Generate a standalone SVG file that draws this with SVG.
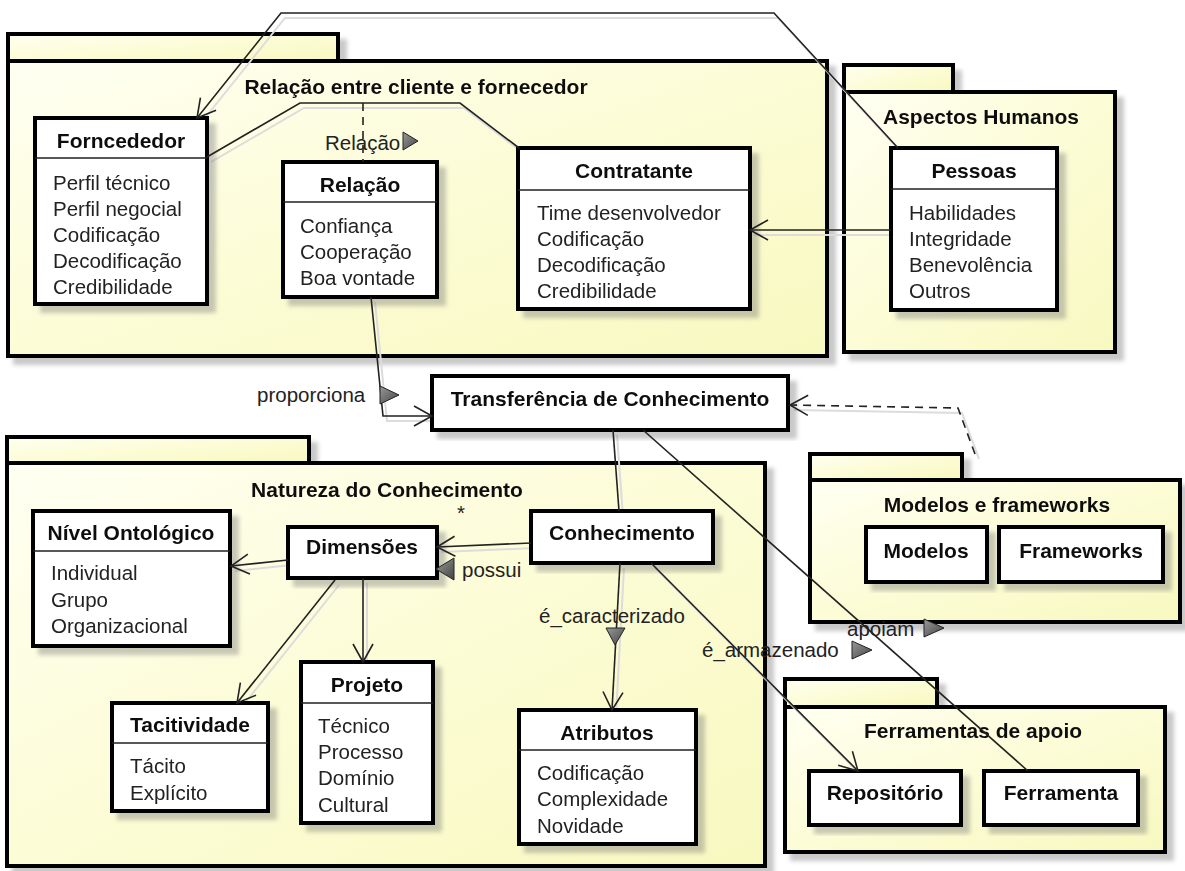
<svg xmlns="http://www.w3.org/2000/svg" width="1185" height="871" viewBox="0 0 1185 871">
<defs>
<linearGradient id="pk" x1="0" y1="0" x2="1" y2="1">
<stop offset="0" stop-color="#fffff2"/>
<stop offset="0.5" stop-color="#fcfcd6"/>
<stop offset="1" stop-color="#f8f8c0"/>
</linearGradient>
<linearGradient id="trg" x1="0" y1="0" x2="1" y2="1">
<stop offset="0" stop-color="#999"/>
<stop offset="1" stop-color="#444"/>
</linearGradient>
<filter id="sh" x="-5%" y="-5%" width="120%" height="125%">
<feDropShadow dx="7" dy="7" stdDeviation="2" flood-color="#777" flood-opacity="0.4"/>
</filter>
<marker id="arr" markerUnits="userSpaceOnUse" markerWidth="24" markerHeight="24" refX="20" refY="12" orient="auto">
<path d="M2,2 L20,12 L2,22" fill="none" stroke="#222" stroke-width="1.6"/>
</marker>
</defs>
<style>
.pkg{fill:url(#pk);stroke:#000;stroke-width:4}
.box{fill:#fff;stroke:#000;stroke-width:4}
.sep{stroke:#222;stroke-width:1.5}
.t{font-family:"Liberation Sans",Arial,sans-serif;font-size:20.5px;fill:#222}
.b{font-family:"Liberation Sans",Arial,sans-serif;font-size:21px;font-weight:bold;fill:#111;text-anchor:middle}
.pt{font-family:"Liberation Sans",Arial,sans-serif;font-size:21px;font-weight:bold;fill:#111;text-anchor:middle}
.c{fill:none;stroke:#222;stroke-width:1.6}
.cs{fill:none;stroke:#dcdcdc;stroke-width:2}
.d{stroke-dasharray:8 6}
.tr{fill:url(#trg);stroke:#222;stroke-width:1}
</style>

<!-- Packages -->
<g id="pkg-relacao" filter="url(#sh)">
<rect class="pkg" x="8" y="34" width="330" height="27"/>
<rect class="pkg" x="8" y="61" width="819" height="295"/>
<text class="pt" x="416" y="94">Relação entre cliente e fornecedor</text>
</g>
<g id="pkg-aspectos" filter="url(#sh)">
<rect class="pkg" x="844" y="65" width="109" height="27"/>
<rect class="pkg" x="844" y="92" width="271" height="260"/>
<text class="pt" x="981" y="124">Aspectos Humanos</text>
</g>
<g id="pkg-natureza" filter="url(#sh)">
<rect class="pkg" x="7" y="437" width="302" height="26"/>
<rect class="pkg" x="7" y="463" width="758" height="403"/>
<text class="pt" x="387" y="497">Natureza do Conhecimento</text>
</g>
<g id="pkg-modelos" filter="url(#sh)">
<rect class="pkg" x="810" y="454" width="152" height="26"/>
<rect class="pkg" x="810" y="480" width="370" height="142"/>
<text class="pt" x="997" y="512">Modelos e frameworks</text>
</g>
<g id="pkg-ferramentas" filter="url(#sh)">
<rect class="pkg" x="785" y="679" width="152" height="28"/>
<rect class="pkg" x="785" y="707" width="380" height="145"/>
<text class="pt" x="973" y="738">Ferramentas de apoio</text>
</g>

<!-- Connector shadows -->
<g id="connector-shadows" transform="translate(4,5)">
<path class="cs" d="M898,148 L774,13 L281,13 L197,118"/>
<path class="cs" d="M207,157 L300,103 L460,103 L519,148"/>
<path class="cs" d="M891,230 L750,230"/>
<path class="cs" d="M371,297 L383,416 L432,416"/>
<path class="cs" d="M613,430 L619,511"/>
<path class="cs" d="M975,454 L958,408 L790,405"/>
<path class="cs" d="M531,543 L437,547"/>
<path class="cs" d="M288,560 L231,566"/>
<path class="cs" d="M335,580 L237,703"/>
<path class="cs" d="M363,578 L363,662"/>
<path class="cs" d="M620,563 L612,710"/>
<path class="cs" d="M651,563 L858,771"/>
</g>

<!-- Classes -->
<g id="forncededor" filter="url(#sh)">
<rect class="box" x="35" y="118" width="172" height="186"/>
<line class="sep" x1="35" y1="158" x2="207" y2="158"/>
<text class="b" x="121" y="148">Forncededor</text>
<text class="t" x="53" y="190">Perfil técnico</text>
<text class="t" x="53" y="216">Perfil negocial</text>
<text class="t" x="53" y="242">Codificação</text>
<text class="t" x="53" y="268">Decodificação</text>
<text class="t" x="53" y="294">Credibilidade</text>
</g>
<g id="relacao" filter="url(#sh)">
<rect class="box" x="283" y="162" width="154" height="135"/>
<line class="sep" x1="283" y1="202" x2="437" y2="202"/>
<text class="b" x="360" y="192">Relação</text>
<text class="t" x="300" y="233">Confiança</text>
<text class="t" x="300" y="259">Cooperação</text>
<text class="t" x="300" y="285">Boa vontade</text>
</g>
<g id="contratante" filter="url(#sh)">
<rect class="box" x="518" y="148" width="232" height="161"/>
<line class="sep" x1="518" y1="190" x2="750" y2="190"/>
<text class="b" x="634" y="178">Contratante</text>
<text class="t" x="537" y="220">Time desenvolvedor</text>
<text class="t" x="537" y="246">Codificação</text>
<text class="t" x="537" y="272">Decodificação</text>
<text class="t" x="537" y="298">Credibilidade</text>
</g>
<g id="pessoas" filter="url(#sh)">
<rect class="box" x="891" y="148" width="166" height="162"/>
<line class="sep" x1="891" y1="189" x2="1057" y2="189"/>
<text class="b" x="974" y="178">Pessoas</text>
<text class="t" x="909" y="220">Habilidades</text>
<text class="t" x="909" y="246">Integridade</text>
<text class="t" x="909" y="272">Benevolência</text>
<text class="t" x="909" y="298">Outros</text>
</g>
<g id="transferencia" filter="url(#sh)">
<rect class="box" x="432" y="376" width="356" height="54"/>
<text class="b" x="610" y="406">Transferência de Conhecimento</text>
</g>
<g id="nivel" filter="url(#sh)">
<rect class="box" x="33" y="511" width="197" height="135"/>
<line class="sep" x1="33" y1="551" x2="230" y2="551"/>
<text class="b" x="131" y="540">Nível Ontológico</text>
<text class="t" x="51" y="580">Individual</text>
<text class="t" x="51" y="607">Grupo</text>
<text class="t" x="51" y="633">Organizacional</text>
</g>
<g id="dimensoes" filter="url(#sh)">
<rect class="box" x="288" y="527" width="149" height="51"/>
<text class="b" x="362" y="554">Dimensões</text>
</g>
<g id="conhecimento" filter="url(#sh)">
<rect class="box" x="531" y="511" width="182" height="52"/>
<text class="b" x="622" y="540">Conhecimento</text>
</g>
<g id="tacitividade" filter="url(#sh)">
<rect class="box" x="112" y="703" width="156" height="108"/>
<line class="sep" x1="112" y1="743" x2="268" y2="743"/>
<text class="b" x="190" y="732">Tacitividade</text>
<text class="t" x="130" y="773">Tácito</text>
<text class="t" x="130" y="800">Explícito</text>
</g>
<g id="projeto" filter="url(#sh)">
<rect class="box" x="301" y="662" width="132" height="161"/>
<line class="sep" x1="301" y1="703" x2="433" y2="703"/>
<text class="b" x="367" y="692">Projeto</text>
<text class="t" x="318" y="733">Técnico</text>
<text class="t" x="318" y="759">Processo</text>
<text class="t" x="318" y="785">Domínio</text>
<text class="t" x="318" y="812">Cultural</text>
</g>
<g id="atributos" filter="url(#sh)">
<rect class="box" x="519" y="710" width="177" height="134"/>
<line class="sep" x1="519" y1="750" x2="696" y2="750"/>
<text class="b" x="607" y="740">Atributos</text>
<text class="t" x="537" y="780">Codificação</text>
<text class="t" x="537" y="806">Complexidade</text>
<text class="t" x="537" y="833">Novidade</text>
</g>
<g id="modelos" filter="url(#sh)">
<rect class="box" x="866" y="527" width="121" height="55"/>
<text class="b" x="926" y="558">Modelos</text>
</g>
<g id="frameworks" filter="url(#sh)">
<rect class="box" x="999" y="527" width="164" height="55"/>
<text class="b" x="1081" y="558">Frameworks</text>
</g>
<g id="repositorio" filter="url(#sh)">
<rect class="box" x="809" y="771" width="152" height="54"/>
<text class="b" x="885" y="800">Repositório</text>
</g>
<g id="ferramenta" filter="url(#sh)">
<rect class="box" x="984" y="771" width="154" height="54"/>
<text class="b" x="1061" y="800">Ferramenta</text>
</g>

<!-- Connectors -->
<g id="connectors">
<path class="c" d="M898,148 L774,13 L281,13 L197,118" marker-end="url(#arr)"/>
<path class="c" d="M207,157 L300,103 L460,103 L519,148"/>
<path class="c d" d="M363,103 L363,162"/>
<path class="c" d="M891,230 L750,230" marker-end="url(#arr)"/>
<path class="c" d="M371,297 L383,416 L432,416" marker-end="url(#arr)"/>
<path class="c" d="M613,430 L619,511"/>
<path class="c d" d="M975,454 L958,408 L790,405" marker-end="url(#arr)"/>
<path class="c" d="M531,543 L437,547" marker-end="url(#arr)"/>
<path class="c" d="M288,560 L231,566" marker-end="url(#arr)"/>
<path class="c" d="M335,580 L237,703" marker-end="url(#arr)"/>
<path class="c" d="M363,578 L363,662" marker-end="url(#arr)"/>
<path class="c" d="M620,563 L612,710" marker-end="url(#arr)"/>
<path class="c" d="M651,563 L858,771" marker-end="url(#arr)"/>
<path class="c" d="M643,430 L1028,771"/>
<polygon class="tr" points="403,132 418,141 403,150"/>
<polygon class="tr" points="380,386 399,395 380,404"/>
<polygon class="tr" points="454,558 436,569 454,580"/>
<polygon class="tr" points="606,628 625,628 615,645"/>
<polygon class="tr" points="852,641 872,650 852,659"/>
<polygon class="tr" points="924,619 944,628 924,637"/>
<text class="t" x="325" y="150">Relação</text>
<text class="t" x="257" y="402">proporciona</text>
<text class="t" x="457" y="520">*</text>
<text class="t" x="462" y="577">possui</text>
<text class="t" x="539" y="623">é_caracterizado</text>
<text class="t" x="702" y="657">é_armazenado</text>
<text class="t" x="847" y="636">apoiam</text>
</g>
</svg>
